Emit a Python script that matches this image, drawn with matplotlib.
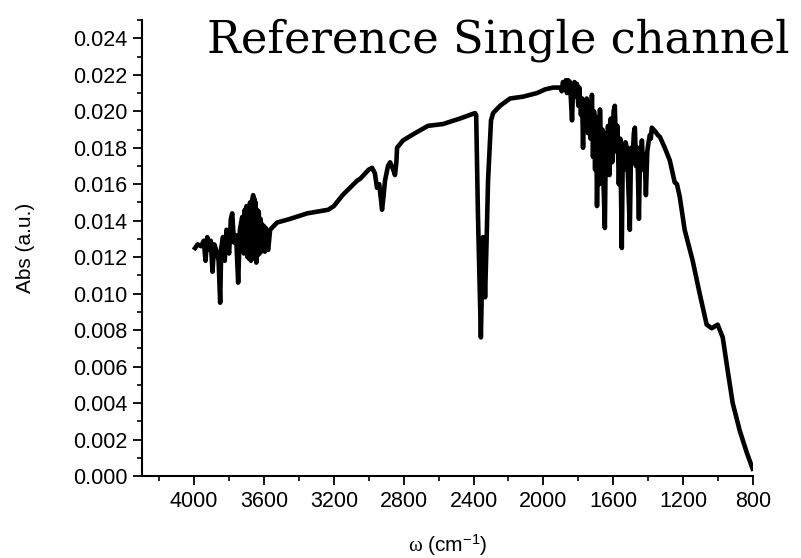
import numpy as np
import matplotlib
matplotlib.use('Agg')
import matplotlib.pyplot as plt
from matplotlib.ticker import MultipleLocator

# wavenumber (cm-1) and absorbance
wavenumber = [3995, 3980, 3960, 3945, 3935, 3925, 3915, 3905, 3895, 3885,
              3870, 3860, 3851, 3845, 3835, 3825, 3815, 3800, 3790, 3782,
              3772, 3760, 3748, 3738, 3725, 3715, 3710, 3705, 3700, 3695,
              3690, 3685, 3680, 3675, 3668, 3662, 3658, 3655, 3651, 3648,
              3644, 3640, 3635, 3630, 3625, 3620, 3615, 3610, 3605, 3600,
              3595, 3590, 3583, 3576, 3565, 3545, 3525, 3450, 3353, 3232,
              3200, 3150, 3066, 3049, 3000, 2981, 2965, 2953, 2940, 2924,
              2915, 2907, 2890, 2878, 2860, 2850, 2842, 2838, 2804, 2735,
              2661, 2575, 2478, 2392, 2385, 2375, 2358, 2350, 2346, 2340,
              2334, 2325, 2317, 2300, 2288, 2248, 2191, 2117, 2036, 1990,
              1944, 1904, 1895, 1888, 1880, 1872, 1865, 1858, 1848, 1842,
              1836, 1830, 1822, 1815, 1808, 1800, 1794, 1785, 1778, 1773,
              1768, 1760, 1752, 1745, 1738, 1730, 1722, 1716, 1710, 1704,
              1698, 1693, 1686, 1680, 1676, 1670, 1662, 1655, 1648, 1642,
              1636, 1630, 1622, 1614, 1606, 1598, 1591, 1584, 1576, 1568,
              1560, 1551, 1545, 1538, 1530, 1522, 1514, 1505, 1498, 1490,
              1482, 1476, 1470, 1462, 1453, 1446, 1440, 1436, 1428, 1420,
              1413, 1405, 1398, 1390, 1385, 1379, 1360, 1345, 1333, 1305,
              1276, 1248, 1235, 1219, 1191, 1145, 1105, 1065, 1036, 1002,
              973, 945, 916, 876, 836, 802]
absorbance = [0.0125, 0.0127, 0.0126, 0.0129, 0.0118, 0.0131, 0.0124, 0.0129, 0.0112, 0.0127,
              0.0123, 0.0118, 0.0095, 0.0125, 0.0131, 0.0118, 0.0135, 0.0122, 0.0141, 0.0144,
              0.0128, 0.0132, 0.0106, 0.0135, 0.0142, 0.0122, 0.0146, 0.0124, 0.0148, 0.0120,
              0.0147, 0.0119, 0.0150, 0.0118, 0.0151, 0.0154, 0.0121, 0.0152, 0.0119, 0.0150,
              0.0117, 0.0146, 0.0121, 0.0145, 0.0122, 0.0141, 0.0123, 0.0138, 0.0124, 0.0137,
              0.0123, 0.0136, 0.0126, 0.0124, 0.0135, 0.0137, 0.0139, 0.0141, 0.0144, 0.0146,
              0.0148, 0.0154, 0.0162, 0.0163, 0.0168, 0.0169, 0.0166, 0.0158, 0.0160, 0.0146,
              0.0154, 0.0162, 0.0170, 0.0172, 0.0168, 0.0165, 0.0172, 0.0180, 0.0184, 0.0188,
              0.0192, 0.0193, 0.0196, 0.0199, 0.0198, 0.0144, 0.0076, 0.0115, 0.0131, 0.0118,
              0.0098, 0.0130, 0.0162, 0.0195, 0.0199, 0.0203, 0.0207, 0.0208, 0.0210, 0.0212,
              0.0213, 0.0213, 0.0211, 0.0216, 0.0212, 0.0217, 0.0210, 0.0217, 0.0216, 0.0205,
              0.0195, 0.0213, 0.0216, 0.0208, 0.0215, 0.0203, 0.0213, 0.0198, 0.0207, 0.0180,
              0.0206, 0.0195, 0.0207, 0.0188, 0.0205, 0.0185, 0.0209, 0.0175, 0.0200, 0.0168,
              0.0197, 0.0148, 0.0196, 0.0160, 0.0201, 0.0175, 0.0190, 0.0158, 0.0136, 0.0188,
              0.0170, 0.0192, 0.0165, 0.0196, 0.0172, 0.0200, 0.0203, 0.0178, 0.0192, 0.0160,
              0.0185, 0.0125, 0.0182, 0.0168, 0.0183, 0.0180, 0.0160, 0.0135, 0.0180, 0.0172,
              0.0188, 0.0191, 0.0170, 0.0180, 0.0141, 0.0180, 0.0172, 0.0184, 0.0168, 0.0176,
              0.0154, 0.0178, 0.0183, 0.0187, 0.0185, 0.0191, 0.0189, 0.0187, 0.0186, 0.0180,
              0.0173, 0.0161, 0.0160, 0.0153, 0.0135, 0.0118, 0.0100, 0.0083, 0.0081, 0.0083,
              0.0076, 0.0058, 0.0040, 0.0025, 0.0013, 0.0004]

plt.rcParams['font.family'] = ['Liberation Sans', 'DejaVu Sans']
plt.rcParams['mathtext.fontset'] = 'custom'
plt.rcParams['mathtext.rm'] = 'Liberation Sans'
plt.rcParams['mathtext.it'] = 'Liberation Serif'

fig = plt.figure(figsize=(8.01, 5.58), dpi=100)
ax = fig.add_axes([0.177, 0.147, 0.763, 0.817])

ax.plot(wavenumber, absorbance, color='black', lw=3.3, solid_joinstyle='round')

ax.set_xlim(4300, 800)
ax.set_ylim(0, 0.025)
ax.xaxis.set_minor_locator(MultipleLocator(200))
ax.yaxis.set_minor_locator(MultipleLocator(0.001))
yt = np.arange(0, 0.0241, 0.002)
ax.set_yticks(yt)
ax.set_yticklabels(['%.3f' % v for v in yt])
ax.set_xticks(np.arange(800, 4001, 400))

for s in ['top', 'right']:
    ax.spines[s].set_visible(False)
for s in ['left', 'bottom']:
    ax.spines[s].set_linewidth(1.5)
ax.tick_params(which='major', direction='out', length=6.5, width=1.3, labelsize=15.5, pad=4)
ax.tick_params(which='minor', direction='out', length=3.6, width=1.2)

ax.set_ylabel('Abs (a.u.)', fontsize=15)
ax.yaxis.set_label_coords(-0.175, 0.5)
ax.set_xlabel(r'$\omega$ (cm$^{-1}$)', fontsize=15)
ax.xaxis.set_label_coords(0.5, -0.125)

fig.text(790 / 801, 1 - 52 / 558, 'Reference Single channel', family='DejaVu Serif',
         fontsize=32.3, ha='right', va='baseline')

fig.savefig('out.png', dpi=100)
